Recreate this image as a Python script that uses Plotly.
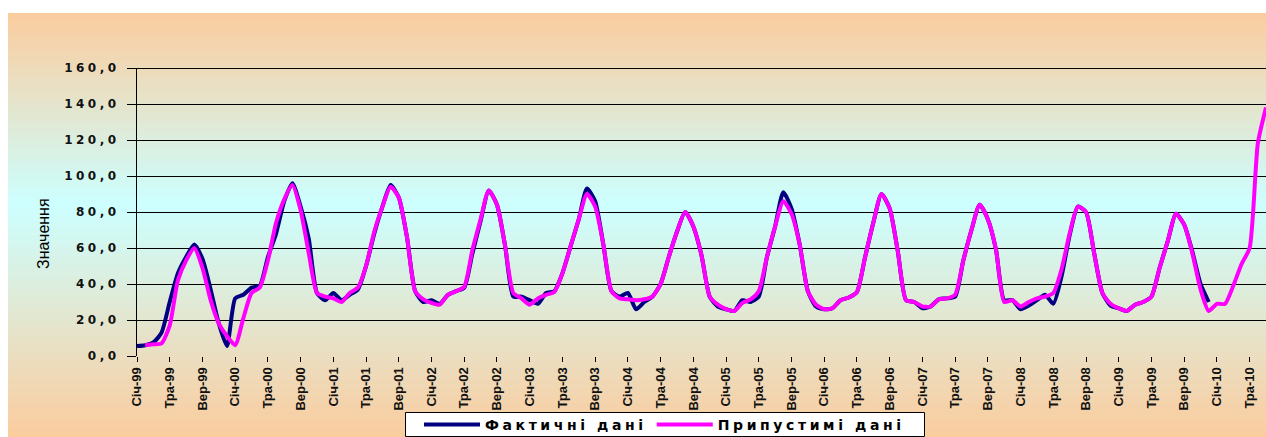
import plotly.graph_objects as go

# Month labels (Ukrainian abbreviations), Jan 1999 .. Jul 2010
month_names = ["Січ", "Лют", "Бер", "Кві", "Тра", "Чер",
               "Лип", "Сер", "Вер", "Жов", "Лис", "Гру"]
years = list(range(1999, 2011))
n_months = 139
categories = [f"{month_names[k % 12]}-{years[k // 12] % 100:02d}" for k in range(n_months)]
tick_labels = categories[::4]

# Actual data, Jan 1999 .. Dec 2009
actual = [
    5.5, 6, 7.5, 13, 30, 46, 55, 62, 54, 37, 18, 5.5,
    32, 34, 38, 39, 55, 68, 86, 96, 83, 65, 35, 31,
    35, 31, 34, 37, 50, 68, 83, 95, 88, 66, 36, 30,
    31, 29, 34, 36, 38, 57, 75, 92, 84, 61, 33, 33,
    31, 29, 35, 36, 46, 61, 76, 93, 86, 62, 36, 33,
    35, 26, 30, 33, 40, 55, 69, 80, 72, 56, 33, 27.5,
    26, 25, 31, 30, 33, 55, 72, 91, 82, 62, 36, 27.5,
    26, 26.5, 31, 32.5, 35.5, 55, 74, 90, 82, 58, 31, 30,
    26.5, 27.5, 31.5, 32, 33, 53, 70, 84, 76, 59, 31, 31,
    26, 28, 31, 34, 29, 44, 67, 83, 80, 57, 35, 28,
    26.5, 25, 28.5, 30, 33, 49, 64, 79, 73, 58, 40, 30,
]

# Admissible (model) data, Feb 1999 .. Jul 2010
admissible = [
    6, 6.5, 7, 17, 42, 53, 60, 49, 31, 18, 11,
    6, 21, 35, 38, 53, 74, 87, 95, 81, 57, 35, 33,
    32, 30, 35, 38, 50, 69, 83, 94, 88, 66, 36, 31.5,
    29.5, 28.5, 34, 36, 38.5, 59, 76, 92, 84, 61, 35, 32,
    28.5, 32, 34, 35.5, 46, 61, 76, 90, 83, 62, 36, 32,
    31.5, 31, 31.5, 33, 40, 55, 69, 80, 72, 56, 33, 28.5,
    26, 25, 29.5, 31.5, 36, 55, 72, 86, 79, 62, 36, 28.5,
    26, 26.5, 31, 32.5, 35.5, 55, 74, 90, 82, 58, 31, 30,
    27.5, 27.5, 31.5, 32, 34, 53, 70, 84, 76, 59, 30, 31,
    27.5, 30, 32, 33, 35, 48, 68, 83, 80, 57, 35, 29,
    26.5, 25, 28.5, 30, 33, 49, 64, 79, 73, 57, 37, 25,
    29, 29, 39, 51, 60, 118, 138,
]

y_ticks = [0, 20, 40, 60, 80, 100, 120, 140, 160]
y_tick_text = [f"{v:.1f}".replace(".", ",") for v in y_ticks]

W, H = 1266, 437
L, R, T, B = 137, 0, 68, 81
plot_w, plot_h = W - L - R, H - T - B
y_min, y_max = 0, 160


def spaced(text, px):
    return f'<span style="letter-spacing:{px}px">{text}</span>'


fig = go.Figure()
fig.add_trace(go.Scatter(
    x=categories[:len(actual)], y=actual, mode="lines",
    name=spaced("Фактичні дані", 3.6),
    line=dict(color="#000080", width=4, shape="spline", smoothing=0.6),
))
fig.add_trace(go.Scatter(
    x=categories[1:1 + len(admissible)], y=admissible, mode="lines",
    name=spaced("Припустимі дані", 3.6),
    line=dict(color="#FF00FF", width=4, shape="spline", smoothing=0.6),
))


def px_to_paper_x(px):
    return (px - L) / plot_w


def px_to_paper_y(py):
    return (H - B - py) / plot_h


# Chart-area background: vertical peach -> cyan -> peach gradient
peach = (251, 204, 158)
cyan = (204, 255, 255)
top_px, mid_px, bot_px = 13, 205, 437
shapes = []
step = 3
py = top_px
while py < bot_px:
    c = py + step / 2
    if c <= mid_px:
        f = (c - top_px) / (mid_px - top_px)
    else:
        f = (bot_px - c) / (bot_px - mid_px)
    col = tuple(round(peach[i] + (cyan[i] - peach[i]) * f) for i in range(3))
    shapes.append(dict(
        type="rect", xref="paper", yref="paper", layer="below",
        x0=px_to_paper_x(8), x1=px_to_paper_x(W + 2),
        y0=px_to_paper_y(min(py + step + 0.5, bot_px + 1)), y1=px_to_paper_y(py),
        line=dict(width=0), fillcolor=f"rgb{col}",
    ))
    py += step

# Horizontal gridlines (no line at zero), nudged half a pixel for crisp rendering
half_px = 0.5 * (y_max - y_min) / plot_h
for v in y_ticks[1:]:
    shapes.append(dict(
        type="line", xref="paper", yref="y", layer="below",
        x0=0, x1=1, y0=v - half_px, y1=v - half_px,
        line=dict(color="black", width=1),
    ))

# Legend frame
shapes.append(dict(
    type="rect", xref="paper", yref="paper", layer="above",
    x0=px_to_paper_x(405.5), x1=px_to_paper_x(924.5),
    y0=px_to_paper_y(436.5), y1=px_to_paper_y(412.5),
    line=dict(color="black", width=1), fillcolor="white",
))

fig.update_layout(
    width=W, height=H,
    margin=dict(l=L, r=R, t=T, b=B, autoexpand=False),
    paper_bgcolor="white",
    plot_bgcolor="rgba(0,0,0,0)",
    shapes=shapes,
    showlegend=True,
    legend=dict(
        orientation="h", xref="container", yref="container",
        x=419 / W, xanchor="left", y=(H - 409) / H, yanchor="top",
        bgcolor="rgba(0,0,0,0)", borderwidth=0,
        font=dict(family="DejaVu Sans", size=14, color="black", weight="bold"),
        itemwidth=56, tracegroupgap=0,
    ),
    annotations=[dict(
        text="Значення", textangle=-90, showarrow=False,
        xref="paper", yref="paper",
        x=px_to_paper_x(43), y=px_to_paper_y(234),
        xanchor="center", yanchor="middle",
        font=dict(family="Liberation Sans", size=16, color="black"),
    )],
    xaxis=dict(
        type="category", categoryorder="array", categoryarray=categories,
        range=[0, n_months - 1],
        tickmode="array", tickvals=tick_labels, ticktext=tick_labels,
        tickangle=-90, ticks="outside", ticklen=5, tickcolor="black",
        showgrid=False, zeroline=False, showline=False,
        tickfont=dict(family="Liberation Sans", size=13, color="#111", weight="bold"),
    ),
    yaxis=dict(
        range=[y_min, y_max], tickmode="array", tickvals=y_ticks,
        ticktext=[spaced(t, 3.5) for t in y_tick_text],
        ticks="outside", ticklen=9, tickcolor="black",
        showline=True, linecolor="black", linewidth=1,
        showgrid=False, zeroline=False, ticklabelstandoff=5,
        tickfont=dict(family="DejaVu Sans", size=12, color="#111", weight="bold"),
    ),
)

fig.write_html("out.html")
